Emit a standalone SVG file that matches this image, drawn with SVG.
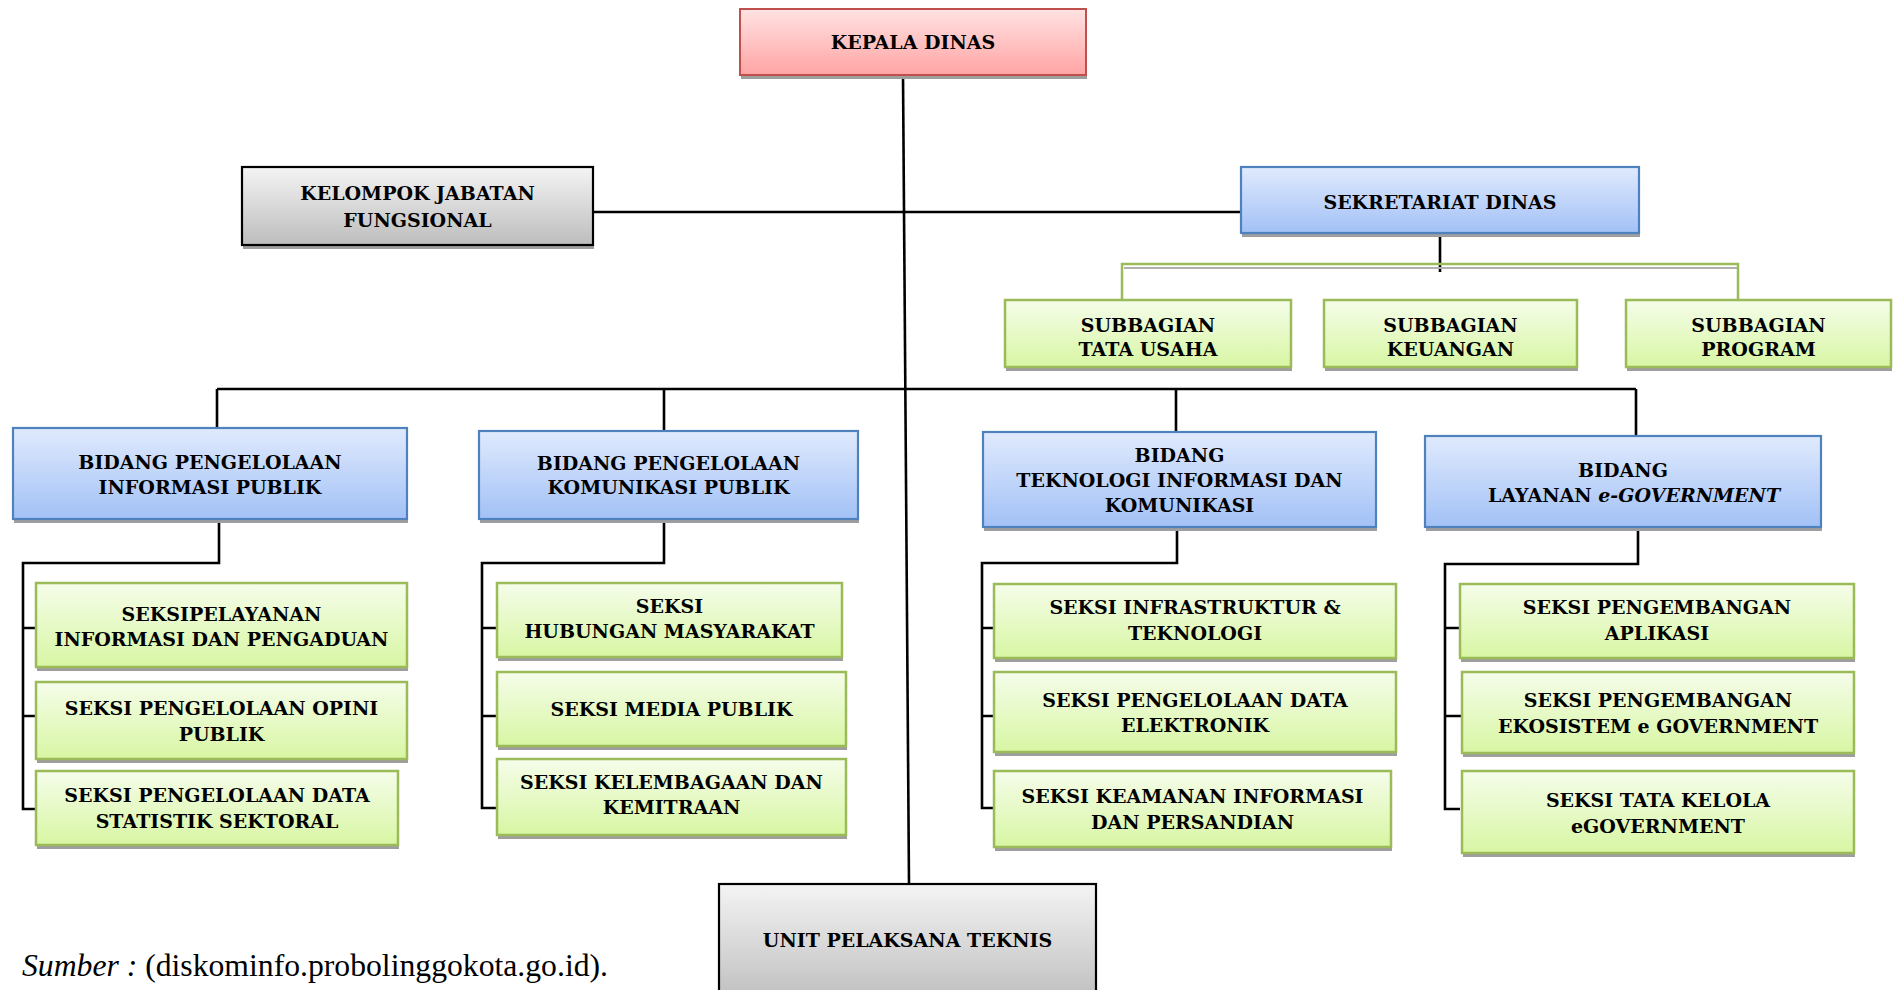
<svg xmlns="http://www.w3.org/2000/svg" width="1898" height="990" viewBox="0 0 1898 990">
<defs>
<linearGradient id="gPink" x1="0" y1="0" x2="0" y2="1"><stop offset="0" stop-color="#FFE2E2"/><stop offset="1" stop-color="#FFA4A4"/></linearGradient>
<linearGradient id="gBlue" x1="0" y1="0" x2="0" y2="1"><stop offset="0" stop-color="#E0EAFD"/><stop offset="1" stop-color="#A2C1F6"/></linearGradient>
<linearGradient id="gGreen" x1="0" y1="0" x2="0" y2="1"><stop offset="0" stop-color="#F5FDEA"/><stop offset="1" stop-color="#D8F6A3"/></linearGradient>
<linearGradient id="gGray" x1="0" y1="0" x2="0" y2="1"><stop offset="0" stop-color="#F4F4F4"/><stop offset="1" stop-color="#BDBDBD"/></linearGradient>
</defs>
<style>
.sh{fill:#9E9E9E}
.pink{fill:url(#gPink);stroke:#C0504D;stroke-width:2}
.blue{fill:url(#gBlue);stroke:#4F81BD;stroke-width:2.2}
.green{fill:url(#gGreen);stroke:#9BBB59;stroke-width:2.5}
.gray{fill:url(#gGray);stroke:#000;stroke-width:2.2}
text.t{font-family:"DejaVu Serif","Liberation Serif",serif;font-weight:bold;font-size:19px;fill:#000;text-anchor:middle}
.ln{fill:none;stroke:#000;stroke-width:2.6}
.gl{fill:none;stroke:#9BBB59;stroke-width:2.5}
.gs{fill:none;stroke:#B0B0B0;stroke-width:2}
</style>
<rect width="1898" height="990" fill="#fff"/>

<g id="connectors">
<path class="ln" d="M903,75 L909,884"/>
<path class="ln" d="M593,212 H1241"/>
<path class="ln" d="M1440,233 V272"/>
<path class="gs" d="M1124,268 H1738"/>
<path class="gl" d="M1122,300 V264 H1738 V300"/>
<path class="ln" d="M217,389 H1636"/>
<path class="ln" d="M217,389 V428 M664,389 V431 M1176,389 V432 M1636,389 V436"/>
<path class="ln" d="M219,519 V563 H23 V809 H36 M23,628 H36 M23,716 H36"/>
<path class="ln" d="M664,519 V563 H482 V808 H497 M482,628 H497 M482,716 H497"/>
<path class="ln" d="M1177,527 V563 H982 V808 H994 M982,628 H994 M982,716 H994"/>
<path class="ln" d="M1638,527 V564 H1445 V809 H1460 M1445,628 H1460 M1445,716 H1462"/>
</g>

<g id="kepala-dinas">
<rect class="sh" x="741" y="13" width="346" height="66"/>
<rect class="pink" x="740" y="9" width="346" height="66"/>
<text class="t" x="913" y="49">KEPALA DINAS</text>
</g>

<g id="kelompok-jabatan">
<rect class="sh" x="243" y="171" width="351" height="78"/>
<rect class="gray" x="242" y="167" width="351" height="78"/>
<text class="t" x="417.5" y="200">KELOMPOK JABATAN</text>
<text class="t" x="417.5" y="227">FUNGSIONAL</text>
</g>

<g id="sekretariat">
<rect class="sh" x="1242" y="171" width="398" height="66"/>
<rect class="blue" x="1241" y="167" width="398" height="66"/>
<text class="t" x="1440" y="209">SEKRETARIAT DINAS</text>
</g>

<g id="sub-tata-usaha">
<rect class="sh" x="1006" y="304" width="286" height="67"/>
<rect class="green" x="1005" y="300" width="286" height="67"/>
<text class="t" x="1148" y="332">SUBBAGIAN</text>
<text class="t" x="1148" y="356">TATA USAHA</text>
</g>
<g id="sub-keuangan">
<rect class="sh" x="1325" y="304" width="253" height="67"/>
<rect class="green" x="1324" y="300" width="253" height="67"/>
<text class="t" x="1450.5" y="332">SUBBAGIAN</text>
<text class="t" x="1450.5" y="356">KEUANGAN</text>
</g>
<g id="sub-program">
<rect class="sh" x="1627" y="304" width="265" height="67"/>
<rect class="green" x="1626" y="300" width="265" height="67"/>
<text class="t" x="1758.5" y="332">SUBBAGIAN</text>
<text class="t" x="1758.5" y="356">PROGRAM</text>
</g>

<g id="bidang-informasi-publik">
<rect class="sh" x="14" y="432" width="394" height="91"/>
<rect class="blue" x="13" y="428" width="394" height="91"/>
<text class="t" x="210" y="469">BIDANG PENGELOLAAN</text>
<text class="t" x="210" y="494">INFORMASI PUBLIK</text>
</g>
<g id="bidang-komunikasi-publik">
<rect class="sh" x="480" y="435" width="379" height="88"/>
<rect class="blue" x="479" y="431" width="379" height="88"/>
<text class="t" x="668.5" y="470">BIDANG PENGELOLAAN</text>
<text class="t" x="668.5" y="494">KOMUNIKASI PUBLIK</text>
</g>
<g id="bidang-tik">
<rect class="sh" x="984" y="436" width="393" height="95"/>
<rect class="blue" x="983" y="432" width="393" height="95"/>
<text class="t" x="1179.5" y="462">BIDANG</text>
<text class="t" x="1179.5" y="487">TEKNOLOGI INFORMASI DAN</text>
<text class="t" x="1179.5" y="512">KOMUNIKASI</text>
</g>
<g id="bidang-egov">
<rect class="sh" x="1426" y="440" width="396" height="91"/>
<rect class="blue" x="1425" y="436" width="396" height="91"/>
<text class="t" x="1623" y="477">BIDANG</text>
<text class="t" x="1634" y="502">LAYANAN  <tspan font-style="italic">e-GOVERNMENT</tspan></text>
</g>

<g id="seksi-pelayanan-informasi">
<rect class="sh" x="37" y="587" width="371" height="84"/>
<rect class="green" x="36" y="583" width="371" height="84"/>
<text class="t" x="221.5" y="621">SEKSIPELAYANAN</text>
<text class="t" x="221.5" y="646">INFORMASI DAN PENGADUAN</text>
</g>
<g id="seksi-opini-publik">
<rect class="sh" x="37" y="686" width="371" height="77"/>
<rect class="green" x="36" y="682" width="371" height="77"/>
<text class="t" x="221.5" y="715">SEKSI PENGELOLAAN OPINI</text>
<text class="t" x="221.5" y="741">PUBLIK</text>
</g>
<g id="seksi-statistik">
<rect class="sh" x="37" y="775" width="362" height="74"/>
<rect class="green" x="36" y="771" width="362" height="74"/>
<text class="t" x="217" y="802">SEKSI PENGELOLAAN DATA</text>
<text class="t" x="217" y="828">STATISTIK SEKTORAL</text>
</g>

<g id="seksi-humas">
<rect class="sh" x="498" y="587" width="345" height="74"/>
<rect class="green" x="497" y="583" width="345" height="74"/>
<text class="t" x="669.5" y="613">SEKSI</text>
<text class="t" x="669.5" y="638">HUBUNGAN MASYARAKAT</text>
</g>
<g id="seksi-media-publik">
<rect class="sh" x="498" y="676" width="349" height="74"/>
<rect class="green" x="497" y="672" width="349" height="74"/>
<text class="t" x="671.5" y="716">SEKSI MEDIA PUBLIK</text>
</g>
<g id="seksi-kelembagaan">
<rect class="sh" x="498" y="763" width="349" height="76"/>
<rect class="green" x="497" y="759" width="349" height="76"/>
<text class="t" x="671.5" y="789">SEKSI KELEMBAGAAN DAN</text>
<text class="t" x="671.5" y="814">KEMITRAAN</text>
</g>

<g id="seksi-infrastruktur">
<rect class="sh" x="995" y="588" width="402" height="74"/>
<rect class="green" x="994" y="584" width="402" height="74"/>
<text class="t" x="1195" y="614">SEKSI INFRASTRUKTUR &amp;</text>
<text class="t" x="1195" y="640">TEKNOLOGI</text>
</g>
<g id="seksi-data-elektronik">
<rect class="sh" x="995" y="676" width="402" height="80"/>
<rect class="green" x="994" y="672" width="402" height="80"/>
<text class="t" x="1195" y="707">SEKSI PENGELOLAAN DATA</text>
<text class="t" x="1195" y="732">ELEKTRONIK</text>
</g>
<g id="seksi-keamanan">
<rect class="sh" x="995" y="775" width="397" height="76"/>
<rect class="green" x="994" y="771" width="397" height="76"/>
<text class="t" x="1192.5" y="803">SEKSI KEAMANAN INFORMASI</text>
<text class="t" x="1192.5" y="829">DAN PERSANDIAN</text>
</g>

<g id="seksi-aplikasi">
<rect class="sh" x="1461" y="588" width="394" height="74"/>
<rect class="green" x="1460" y="584" width="394" height="74"/>
<text class="t" x="1657" y="614">SEKSI PENGEMBANGAN</text>
<text class="t" x="1657" y="640">APLIKASI</text>
</g>
<g id="seksi-ekosistem">
<rect class="sh" x="1463" y="676" width="392" height="81"/>
<rect class="green" x="1462" y="672" width="392" height="81"/>
<text class="t" x="1658" y="707">SEKSI PENGEMBANGAN</text>
<text class="t" x="1658" y="733">EKOSISTEM e GOVERNMENT</text>
</g>
<g id="seksi-tata-kelola">
<rect class="sh" x="1463" y="775" width="392" height="82"/>
<rect class="green" x="1462" y="771" width="392" height="82"/>
<text class="t" x="1658" y="807">SEKSI TATA KELOLA</text>
<text class="t" x="1658" y="833">eGOVERNMENT</text>
</g>

<g id="unit-pelaksana-teknis">
<rect class="gray" x="719" y="884" width="377" height="120"/>
<text class="t" x="907.5" y="947">UNIT PELAKSANA TEKNIS</text>
</g>

<text x="22" y="976" font-family="'Liberation Serif',serif" font-size="31" fill="#000" textLength="586" lengthAdjust="spacingAndGlyphs"><tspan font-style="italic">Sumber :</tspan> (diskominfo.probolinggokota.go.id).</text>
</svg>
